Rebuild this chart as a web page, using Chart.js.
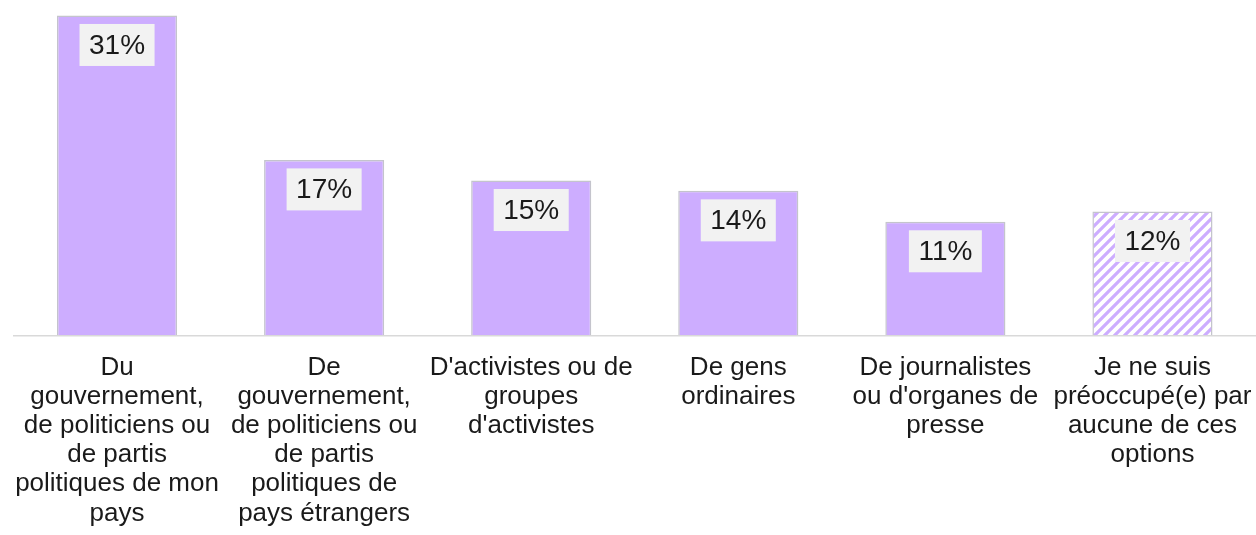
<!DOCTYPE html>
<html>
<head>
<meta charset="utf-8">
<script src="https://cdn.jsdelivr.net/npm/chart.js@4/dist/chart.umd.min.js"></script>
<style>
  html, body { margin: 0; padding: 0; background: #fff; overflow: hidden; }
  #wrap { width: 1256px; height: 546px; }
</style>
</head>
<body>
<div id="wrap"><canvas id="myChart"></canvas></div>
<script>
const categories = [
    ['Du', 'gouvernement,', 'de politiciens ou', 'de partis', 'politiques de mon', 'pays'],
    ['De', 'gouvernement,', 'de politiciens ou', 'de partis', 'politiques de', 'pays étrangers'],
    ["D'activistes ou de", 'groupes', "d'activistes"],
    ['De gens', 'ordinaires'],
    ['De journalistes', "ou d'organes de", 'presse'],
    ['Je ne suis', 'préoccupé(e) par', 'aucune de ces', 'options']
];
const values = [31, 17, 15, 14, 11, 12];
const valueLabels = ['31%', '17%', '15%', '14%', '11%', '12%'];

const lavender = '#cdadff';

// striped fill for the last bar
function makeHatch() {
    const c = document.createElement('canvas');
    c.width = 10;
    c.height = 10;
    const g = c.getContext('2d');
    g.fillStyle = '#ffffff';
    g.fillRect(0, 0, 10, 10);
    g.strokeStyle = lavender;
    g.lineWidth = 3.2;
    g.beginPath();
    g.moveTo(-5, 5); g.lineTo(5, -5);
    g.moveTo(0, 10); g.lineTo(10, 0);
    g.moveTo(5, 15); g.lineTo(15, 5);
    g.stroke();
    return g.createPattern(c, 'repeat');
}
const hatch = makeHatch();

const fills = values.map((v, i) => i === values.length - 1 ? hatch : lavender);

const boxLabels = {
    id: 'boxLabels',
    afterDatasetsDraw(chart) {
        const ctx = chart.ctx;
        const meta = chart.getDatasetMeta(0);
        ctx.save();
        ctx.font = '28px "Liberation Sans", Arial, sans-serif';
        ctx.textAlign = 'center';
        ctx.textBaseline = 'middle';
        meta.data.forEach((bar, i) => {
            const txt = valueLabels[i];
            const w = ctx.measureText(txt).width + 19;
            const h = 42;
            const top = bar.y + 8.5;
            ctx.fillStyle = '#f2f2f2';
            ctx.fillRect(bar.x - w / 2, top, w, h);
            ctx.fillStyle = '#1a1a1a';
            ctx.fillText(txt, bar.x, top + h / 2 + 1);
        });
        ctx.restore();
    }
};

Chart.defaults.font.family = '"Liberation Sans", Arial, sans-serif';

const ctx = document.getElementById('myChart');
const myChart = new Chart(ctx, {
    type: 'bar',
    data: {
        labels: categories,
        datasets: [{
            data: values,
            backgroundColor: fills,
            borderColor: '#c4c4cc',
            borderWidth: 1.5,
            categoryPercentage: 1,
            barPercentage: 0.58
        }]
    },
    options: {
        responsive: true,
        maintainAspectRatio: false,
        animation: false,
        layout: {
            padding: { left: 13.5, right: 0, top: 0, bottom: 0 }
        },
        plugins: {
            legend: { display: false },
            tooltip: { enabled: false }
        },
        scales: {
            x: {
                grid: { display: false, drawTicks: false },
                border: { color: '#d9d9d9', width: 1.5 },
                ticks: {
                    color: '#1a1a1a',
                    font: { size: 26, lineHeight: 1.12 },
                    padding: 18,
                    maxRotation: 0,
                    autoSkip: false
                },
                // labels may spill past the plot edges, like the original
                afterFit(scale) {
                    scale.paddingLeft = 0;
                    scale.paddingRight = 0;
                }
            },
            y: {
                display: false,
                min: 0,
                max: 32.5
            }
        }
    },
    plugins: [boxLabels]
});
</script>
</body>
</html>
